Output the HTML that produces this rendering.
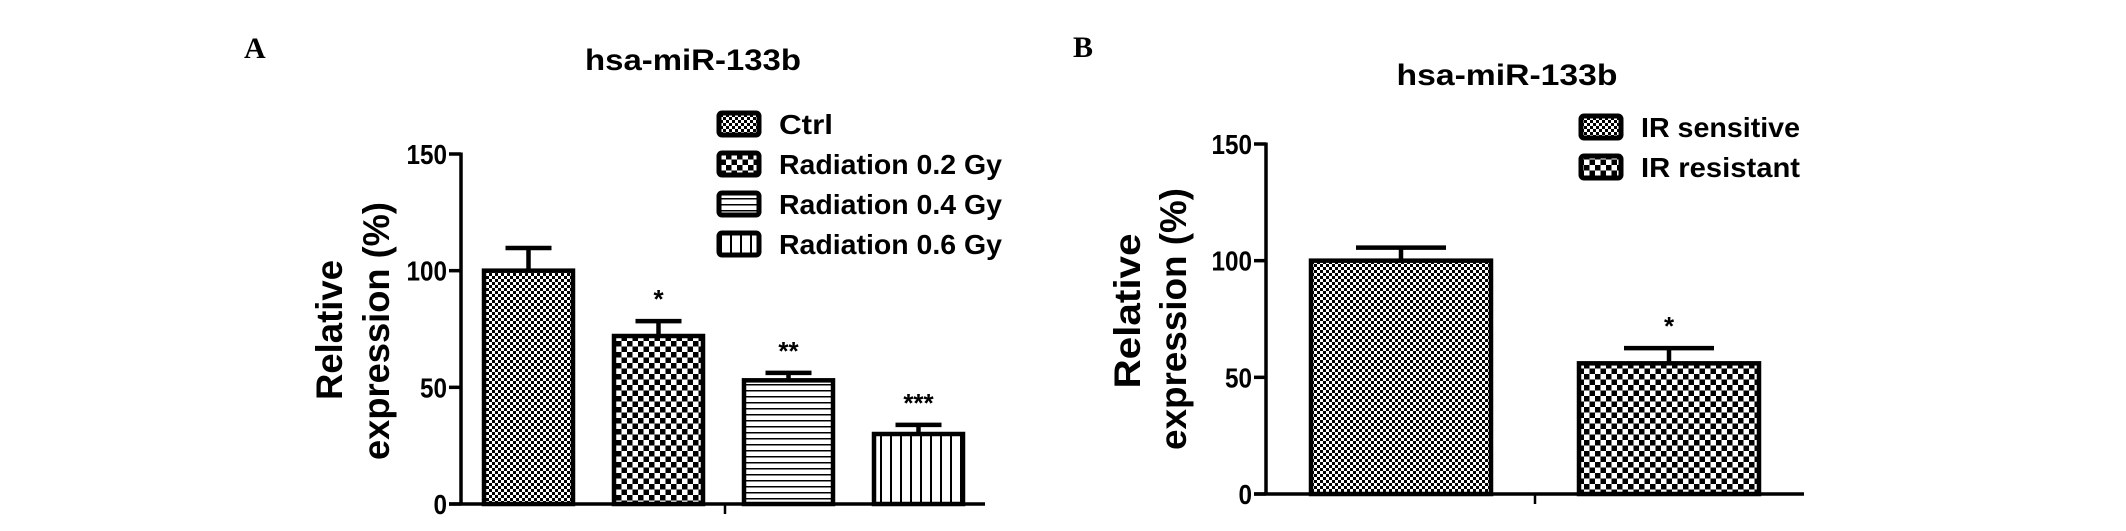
<!DOCTYPE html>
<html><head><meta charset="utf-8"><style>
html,body{margin:0;padding:0;background:#fff;}
svg{display:block;}
text{font-family:"Liberation Sans",Arial,sans-serif;font-weight:bold;fill:#000;}
</style></head>
<body>
<svg id="fig" width="2126" height="531" viewBox="0 0 2126 531" xmlns="http://www.w3.org/2000/svg">
<defs>
<pattern id="p-fine" patternUnits="userSpaceOnUse" width="6" height="6"><rect width="6" height="6" fill="#fff"/><rect width="3" height="3" fill="#000"/><rect x="3" y="3" width="3" height="3" fill="#000"/></pattern>
<pattern id="p-coarse" patternUnits="userSpaceOnUse" width="11" height="11"><rect width="11" height="11" fill="#fff"/><rect width="5.5" height="5.5" fill="#000"/><rect x="5.5" y="5.5" width="5.5" height="5.5" fill="#000"/></pattern>
<pattern id="p-hline" patternUnits="userSpaceOnUse" width="6" height="6"><rect width="6" height="6" fill="#fff"/><rect y="0" width="6" height="1.5" fill="#000"/></pattern>
<pattern id="p-vline" patternUnits="userSpaceOnUse" width="10" height="10"><rect width="10" height="10" fill="#fff"/><rect x="0" width="2" height="10" fill="#000"/></pattern>
</defs>
<text x="244" y="58" style="font-family:'Liberation Serif',serif;font-size:30px">A</text>
<text x="1073" y="57" style="font-family:'Liberation Serif',serif;font-size:30px">B</text>
<g id="chartA"></g>
<g id="chartB"></g>
</svg>
<script>
const catsA = ["Ctrl","Radiation 0.2 Gy","Radiation 0.4 Gy","Radiation 0.6 Gy"];
const valsA = [100, 72, 53, 30];
const errsA = [9.7, 6.4, 3.2, 3.9];
const starsA = ["", "*", "**", "***"];
const catsB = ["IR sensitive","IR resistant"];
const valsB = [100, 56];
const errsB = [5.6, 6.5];
const starsB = ["", "*"];
const ticks = [0, 50, 100, 150];
const tickLabels = ["0","50","100","150"];
const fillsA = ["url(#p-fine)","url(#p-coarse)","url(#p-hline)","url(#p-vline)"];
const fillsB = ["url(#p-fine)","url(#p-coarse)"];
const NS = "http://www.w3.org/2000/svg";
function mk(parent, tag, attrs, txt){
  const e = document.createElementNS(NS, tag);
  for (const k in attrs) e.setAttribute(k, attrs[k]);
  if (txt !== undefined) e.textContent = txt;
  parent.appendChild(e); return e;
}
function drawChart(g, cfg){
  const y = v => cfg.y0 - (v / 150) * (cfg.y0 - cfg.y150);
  const yl1 = mk(g, "text", {transform:`translate(${cfg.ylx1},${cfg.ylc}) rotate(-90)`, "text-anchor":"middle", "font-size":"37", textLength:cfg.ylLen1, lengthAdjust:"spacingAndGlyphs"}, "Relative");
  
  
  const yl2 = mk(g, "text", {transform:`translate(${cfg.ylx2},${cfg.ylc2}) rotate(-90)`, "text-anchor":"middle", "font-size":"37", textLength:cfg.ylLen2, lengthAdjust:"spacingAndGlyphs"}, "expression (%)");
  
  
  const t = mk(g, "text", {x:cfg.titleX, y:cfg.titleY, "text-anchor":"middle", "font-size":"30", textLength:cfg.titleLen, lengthAdjust:"spacingAndGlyphs"}, "hsa-miR-133b");
  
  
  cfg.vals.forEach((v, i) => {
    const x = cfg.barX0 + i * cfg.pitch;
    const cx = x + cfg.bw / 2;
    const eb = mk(g, "path", {d:`M${cx},${y(v)} V${y(v + cfg.errs[i])} M${cx - cfg.cap},${y(v + cfg.errs[i])} H${cx + cfg.cap}`, stroke:"#000", "stroke-width":"4.5", fill:"none"});
    
    
    const r = mk(g, "rect", {x:x, y:y(v), width:cfg.bw, height:y(0) - y(v), fill:cfg.fills[i], stroke:"#000", "stroke-width":"4.5"});
    
    
    if (cfg.stars[i]) {
      const s = mk(g, "text", {x:cx, y:y(v + cfg.errs[i]) - 13, "text-anchor":"middle", "font-size":"26", "font-weight":"normal"}, cfg.stars[i]);
      
      
    }
  });
  const ya = mk(g, "line", {x1:cfg.ax, y1:y(150) - 1.5, x2:cfg.ax, y2:y(0), stroke:"#000", "stroke-width":"3.5"});
  
  
  const xa = mk(g, "line", {x1:cfg.ax - 12, y1:y(0), x2:cfg.xEnd, y2:y(0), stroke:"#000", "stroke-width":"3.5"});
  
  
  const xt = mk(g, "line", {x1:cfg.xTick, y1:y(0), x2:cfg.xTick, y2:y(0) + 10, stroke:"#000", "stroke-width":"2.5"});
  
  
  ticks.forEach((tv, i) => {
    const tl = mk(g, "line", {x1:cfg.ax - 12, y1:y(tv), x2:cfg.ax, y2:y(tv), stroke:"#000", "stroke-width":"3.5"});
    
    
    const lab = mk(g, "text", {x:cfg.ax - 14, y:y(tv) + 10, "text-anchor":"end", "font-size":"28", textLength:tickLabels[i].length * 13.5, lengthAdjust:"spacingAndGlyphs"}, tickLabels[i]);
    
    
  });
  cfg.cats.forEach((c, i) => {
    const ly = cfg.legY0 + i * 40;
    const box = mk(g, "rect", {x:cfg.legX, y:ly - 11, width:40, height:22, rx:3, fill:cfg.fills[i], stroke:"#000", "stroke-width":"5"});
    
    
    const lt = mk(g, "text", {x:cfg.legTX, y:ly + 10, "font-size":"28", textLength:cfg.legLens[i], lengthAdjust:"spacingAndGlyphs"}, c);
    
    
  });
}
drawChart(document.getElementById('chartA'), {
  y0:504, y150:154, ax:461, xEnd:985, xTick:725, barX0:484, pitch:130, bw:89, cap:23,
  vals:valsA, errs:errsA, stars:starsA, fills:fillsA, cats:catsA,
  ylx1:342, ylc:330, ylLen1:140, ylx2:389, ylc2:331, ylLen2:258,
  titleX:693, titleY:70, titleLen:216,
  legX:719, legY0:124, legTX:779, legLens:[54, 223, 223, 223]
});
drawChart(document.getElementById('chartB'), {
  y0:494, y150:144, ax:1266, xEnd:1804, xTick:1535, barX0:1311, pitch:268, bw:180, cap:45,
  vals:valsB, errs:errsB, stars:starsB, fills:fillsB, cats:catsB,
  ylx1:1140, ylc:311, ylLen1:155, ylx2:1186, ylc2:319, ylLen2:262,
  titleX:1507, titleY:85, titleLen:221,
  legX:1581, legY0:127, legTX:1641, legLens:[159, 159]
});
</script>
</body></html>
